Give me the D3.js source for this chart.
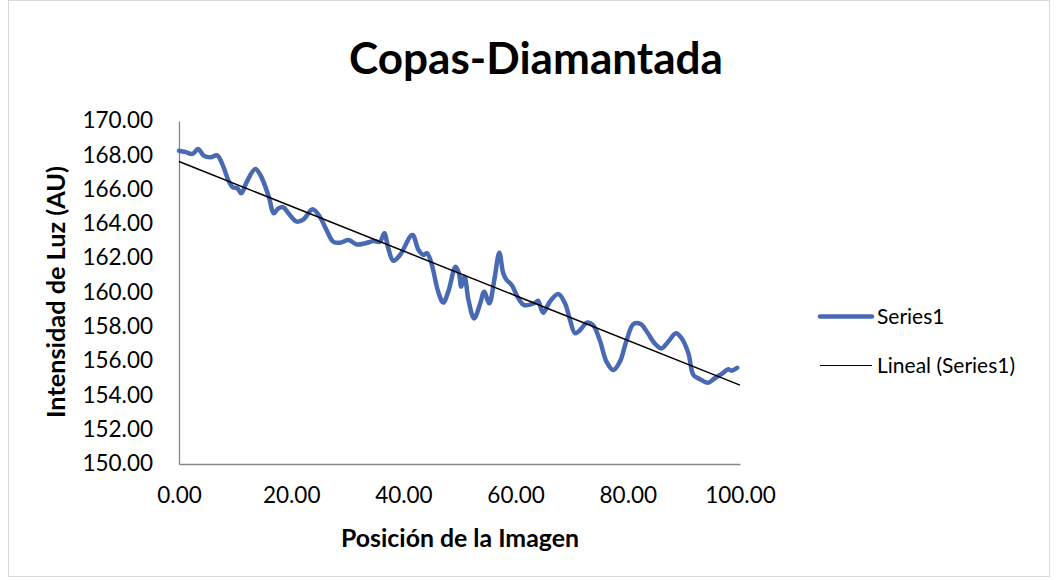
<!DOCTYPE html>
<html>
<head>
<meta charset="utf-8">
<script src="https://cdn.jsdelivr.net/npm/d3@7"></script>
<style>
  body { margin: 0; background: #fff; }
  svg { display: block; }
  text { font-family: Lato, "Open Sans", sans-serif; fill: #000; }
</style>
</head>
<body>
<svg id="chart" width="1057" height="580"></svg>
<script>
// data
var posX = [0, 1.1, 2.4, 3.4, 4.4, 5.6, 6.8, 7.7, 8.9, 9.6, 10.4, 11.1, 12.1, 13.6, 14.5, 16.0, 16.9, 17.7, 18.6, 19.5,
  21.0, 22.2, 23.8, 25.1, 26.3, 27.5, 28.7, 30.2, 31.7, 33.2, 34.7, 35.8, 36.6, 37.3, 38.2, 39.4, 41.6, 42.7, 43.6, 44.2,
  45.0, 46.2, 47.1, 48.0, 49.3, 49.9, 50.3, 50.9, 51.6, 52.6, 53.7, 54.4, 55.3, 56.2, 57.1, 57.8, 58.4, 59.3, 60.5, 61.5,
  63.5, 64.0, 64.9, 66.1, 67.6, 68.8, 69.7, 70.6, 71.5, 72.7, 73.8, 75.0, 76.2, 77.4, 78.6, 79.8, 81.0, 82.3, 83.4, 84.8,
  86.0, 87.2, 88.6, 89.6, 90.8, 91.7, 92.8, 94.3, 95.5, 97.0, 97.9, 98.5, 99.5];
var intensidad = [168.27, 168.2, 168.08, 168.37, 167.98, 167.88, 168.0, 167.5, 166.47, 166.13, 166.08, 165.78, 166.47, 167.2, 166.85, 165.6, 164.62, 164.9, 164.97, 164.62,
  164.13, 164.27, 164.85, 164.42, 163.64, 162.96, 162.9, 163.06, 162.8, 162.87, 163.0, 162.96, 163.45, 162.58, 161.85, 162.19, 163.35, 162.48, 162.19, 162.29,
  161.7, 160.05, 159.41, 160.05, 161.5, 161.12, 160.34, 160.92, 159.56, 158.49, 159.37, 160.05, 159.37, 160.73, 162.32, 161.12, 160.73, 160.44, 159.66, 159.27,
  159.4, 159.52, 158.82, 159.46, 159.91, 159.37, 158.4, 157.62, 157.81, 158.24, 158.1, 157.23, 155.97, 155.48, 155.97, 157.23, 158.16, 158.16, 157.71, 157.03,
  156.74, 157.13, 157.62, 157.33, 156.45, 155.19, 154.96, 154.74, 155.0, 155.32, 155.52, 155.44, 155.61];
var xTicks = [0, 20, 40, 60, 80, 100];
var yTicks = [150, 152, 154, 156, 158, 160, 162, 164, 166, 168, 170];
var legendNames = ["Series1", "Lineal (Series1)"];

var svg = d3.select("#chart");
var plotLeft = 179, plotRight = 740, plotTop = 121, plotBottom = 464;

var x = d3.scaleLinear().domain([0, 100]).range([plotLeft, plotRight]);
var y = d3.scaleLinear().domain([150, 170]).range([plotBottom, plotTop]);

// chart border
svg.append("rect").attr("x", 8.5).attr("y", 0.5).attr("width", 1041).attr("height", 576)
  .attr("fill", "none").attr("stroke", "#d9d9d9");

// fit text width helper
function fit(t, w) {
  var len = t.node().getComputedTextLength();
  var fs = parseFloat(t.attr("font-size"));
  t.attr("font-size", fs * w / len);
}

// axes
var yAxis = svg.append("g").attr("transform", "translate(" + plotLeft + ",0)")
  .call(d3.axisLeft(y).tickValues(yTicks).tickSize(0).tickPadding(26).tickFormat(d3.format(".2f")));
var xAxis = svg.append("g").attr("transform", "translate(0," + plotBottom + ")")
  .call(d3.axisBottom(x).tickValues(xTicks).tickSize(0).tickPadding(23).tickFormat(d3.format(".2f")));
[yAxis, xAxis].forEach(function(a) {
  a.select(".domain").attr("stroke", "#868686").attr("stroke-width", 1.3);
  a.selectAll("text").attr("font-size", 22.5).attr("font-family", "Lato, sans-serif").attr("fill", "#000");
});
yAxis.selectAll("text").attr("dy", "0.3em");

// linear trend (least squares)
var mx = d3.mean(posX), my = d3.mean(intensidad);
var sxy = d3.sum(posX, function(d, i) { return (d - mx) * (intensidad[i] - my); });
var sxx = d3.sum(posX, function(d) { return (d - mx) * (d - mx); });
var slope = sxy / sxx, inter = my - slope * mx;

var line = d3.line().x(function(d) { return x(d[0]); }).y(function(d) { return y(d[1]); });

svg.append("path")
  .datum(posX.map(function(d, i) { return [d, intensidad[i]]; }))
  .attr("d", line.curve(d3.curveCatmullRom.alpha(0.5)))
  .attr("fill", "none").attr("stroke", "#4A69B3").attr("stroke-width", 4.5)
  .attr("stroke-linejoin", "round").attr("stroke-linecap", "round");

svg.append("path")
  .datum([[0, inter], [100, inter + slope * 100]])
  .attr("d", d3.line().x(function(d) { return x(d[0]); }).y(function(d) { return y(d[1]); }))
  .attr("fill", "none").attr("stroke", "#000").attr("stroke-width", 1.5);

// titles
var title = svg.append("text").attr("x", 536).attr("y", 74).attr("text-anchor", "middle")
  .attr("font-size", 38).attr("font-weight", "bold").text("Copas-Diamantada");
fit(title, 374);

var xt = svg.append("text").attr("x", 460).attr("y", 547).attr("text-anchor", "middle")
  .attr("font-size", 20).attr("font-weight", "bold").text("Posición de la Imagen");
fit(xt, 238);

var yt = svg.append("text").attr("transform", "translate(65,292) rotate(-90)").attr("text-anchor", "middle")
  .attr("font-size", 20).attr("font-weight", "bold").text("Intensidad de Luz (AU)");
fit(yt, 252);

// legend
var legend = svg.append("g").attr("transform", "translate(820,316.5)");
var items = legend.selectAll("g").data(legendNames).enter().append("g")
  .attr("transform", function(d, i) { return "translate(0," + i * 49 + ")"; });
items.append("line").attr("x1", 0).attr("x2", 52).attr("y1", 0).attr("y2", 0)
  .attr("stroke", function(d, i) { return i == 0 ? "#4A69B3" : "#000"; })
  .attr("stroke-width", function(d, i) { return i == 0 ? 4.5 : 1; })
  .attr("stroke-linecap", function(d, i) { return i == 0 ? "round" : "butt"; });
items.append("text").attr("x", 57).attr("y", 0).attr("dy", "0.35em")
  .attr("font-size", 21).text(function(d) { return d; });
</script>
</body>
</html>
